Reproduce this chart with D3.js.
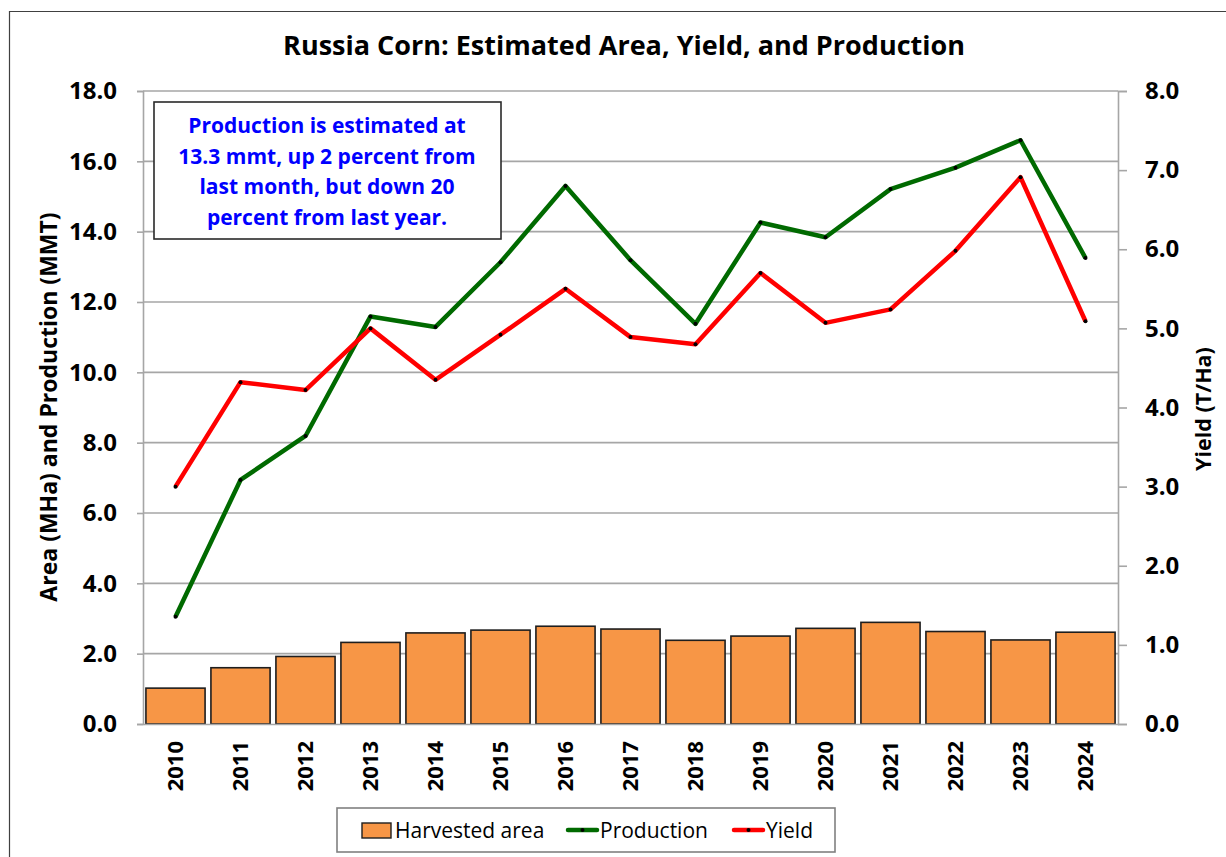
<!DOCTYPE html>
<html>
<head>
<meta charset="utf-8">
<script src="https://cdn.jsdelivr.net/npm/d3@7/dist/d3.min.js"></script>
<style>
  html, body { margin: 0; padding: 0; background: #fff; }
  svg { display: block; font-family: "Open Sans", "Noto Sans", sans-serif; }
</style>
</head>
<body>
<svg id="chart" width="1226" height="857"></svg>
<script>
const years = ["2010","2011","2012","2013","2014","2015","2016","2017","2018","2019","2020","2021","2022","2023","2024"];
const harvestedArea = [1.02, 1.60, 1.92, 2.32, 2.59, 2.67, 2.78, 2.70, 2.38, 2.50, 2.72, 2.89, 2.63, 2.39, 2.61];
const production = [3.05, 6.94, 8.19, 11.59, 11.29, 13.13, 15.30, 13.19, 11.38, 14.26, 13.84, 15.21, 15.82, 16.60, 13.25];
const yieldVals = [3.00, 4.32, 4.22, 5.00, 4.35, 4.92, 5.50, 4.89, 4.80, 5.70, 5.07, 5.24, 5.98, 6.91, 5.09];
const leftTicks = [0, 2, 4, 6, 8, 10, 12, 14, 16, 18];
const rightTicks = [0, 1, 2, 3, 4, 5, 6, 7, 8];
const titleText = "Russia Corn: Estimated Area, Yield, and Production";
const leftAxisTitle = "Area (MHa) and Production (MMT)";
const rightAxisTitle = "Yield (T/Ha)";
const noteLines = ["Production is estimated at", "13.3 mmt, up 2 percent from", "last month, but down 20", "percent from last year."];
const legendLabels = ["Harvested area", "Production", "Yield"];

const svg = d3.select("#chart");
const plot = { left: 143, right: 1118, top: 91, bottom: 724 };
const gridColor = "#a6a6a6";

// outer frame (left and top edges visible)
svg.append("path").attr("d", "M9.5,857 L9.5,11.5 L1226,11.5")
  .attr("fill", "none").attr("stroke", "#404040").attr("stroke-width", 1.2);

const x = d3.scaleBand().domain(years).range([plot.left, plot.right]).paddingInner(0.09).paddingOuter(0.045);
const yL = d3.scaleLinear().domain([0, 18]).range([plot.bottom, plot.top]);
const yR = d3.scaleLinear().domain([0, 8]).range([plot.bottom, plot.top]);

// gridlines
svg.append("g").selectAll("line").data(leftTicks.filter(d => d > 0)).join("line")
  .attr("x1", plot.left).attr("x2", plot.right)
  .attr("y1", d => yL(d)).attr("y2", d => yL(d))
  .attr("stroke", gridColor).attr("stroke-width", 1.6);

// bars
svg.append("g").selectAll("rect").data(years).join("rect")
  .attr("x", d => x(d)).attr("width", x.bandwidth())
  .attr("y", (d, i) => yL(harvestedArea[i]))
  .attr("height", (d, i) => plot.bottom - yL(harvestedArea[i]))
  .attr("fill", "#f79646").attr("stroke", "#1e1e1e").attr("stroke-width", 1.6);

// left axis
const gL = svg.append("g").attr("transform", `translate(${plot.left},0)`)
  .call(d3.axisLeft(yL).tickValues(leftTicks).tickFormat(d3.format(".1f")).tickSize(6).tickPadding(20));
gL.select(".domain").attr("stroke", gridColor).attr("stroke-width", 1.6);
gL.selectAll(".tick line").attr("stroke", gridColor).attr("stroke-width", 1.6);
gL.selectAll(".tick text").attr("font-size", 24).attr("font-weight", "bold").attr("fill", "#000")
  .attr("font-family", "'Open Sans', sans-serif");

// right axis
const gR = svg.append("g").attr("transform", `translate(${plot.right},0)`)
  .call(d3.axisRight(yR).tickValues(rightTicks).tickFormat(d3.format(".1f")).tickSize(9).tickPadding(18));
gR.select(".domain").attr("stroke", gridColor).attr("stroke-width", 1.6);
gR.selectAll(".tick line").attr("stroke", gridColor).attr("stroke-width", 1.6);
gR.selectAll(".tick text").attr("font-size", 24).attr("font-weight", "bold").attr("fill", "#000")
  .attr("font-family", "'Open Sans', sans-serif");

// bottom axis
const gB = svg.append("g").attr("transform", `translate(0,${plot.bottom})`)
  .call(d3.axisBottom(x).tickSize(0).tickPadding(0));
gB.select(".domain").attr("stroke", gridColor).attr("stroke-width", 1.6);
gB.selectAll(".tick text")
  .attr("font-size", 22).attr("font-weight", "bold").attr("fill", "#000")
  .attr("font-family", "'Open Sans', sans-serif")
  .attr("transform", "rotate(-90)")
  .attr("text-anchor", "end").attr("dy", "0.36em").attr("x", -17).attr("y", 0);

// lines
const lineL = d3.line().x((d, i) => x(years[i]) + x.bandwidth() / 2).y(d => yL(d));
const lineR = d3.line().x((d, i) => x(years[i]) + x.bandwidth() / 2).y(d => yR(d));
svg.append("path").datum(production).attr("d", lineL)
  .attr("fill", "none").attr("stroke", "#006a00").attr("stroke-width", 4.5).attr("stroke-linejoin", "round");
svg.append("path").datum(yieldVals).attr("d", lineR)
  .attr("fill", "none").attr("stroke", "#ff0000").attr("stroke-width", 4.5).attr("stroke-linejoin", "round");
svg.append("g").selectAll("circle").data(production).join("circle")
  .attr("cx", (d, i) => x(years[i]) + x.bandwidth() / 2).attr("cy", d => yL(d)).attr("r", 2).attr("fill", "#000");
svg.append("g").selectAll("circle").data(yieldVals).join("circle")
  .attr("cx", (d, i) => x(years[i]) + x.bandwidth() / 2).attr("cy", d => yR(d)).attr("r", 2).attr("fill", "#000");

// title
svg.append("text").attr("x", 624).attr("y", 55).attr("text-anchor", "middle")
  .attr("font-size", 27).attr("font-weight", "bold").attr("fill", "#000").text(titleText);

// axis titles
svg.append("text").attr("transform", "translate(57,407) rotate(-90)").attr("text-anchor", "middle")
  .attr("font-size", 23).attr("font-weight", "bold").attr("fill", "#000").text(leftAxisTitle);
svg.append("text").attr("transform", "translate(1211,409) rotate(-90)").attr("text-anchor", "middle")
  .attr("font-size", 21.5).attr("font-weight", "bold").attr("fill", "#000").text(rightAxisTitle);

// annotation box
svg.append("rect").attr("x", 154).attr("y", 102).attr("width", 347).attr("height", 137)
  .attr("fill", "#fff").attr("stroke", "#2a2a2a").attr("stroke-width", 1.6);
svg.append("g").selectAll("text").data(noteLines).join("text")
  .attr("x", 327).attr("y", (d, i) => 133 + i * 30.5).attr("text-anchor", "middle")
  .attr("font-size", 21).attr("font-weight", "bold").attr("fill", "#0000ff").text(d => d);

// legend
const lg = svg.append("g");
lg.append("rect").attr("x", 337).attr("y", 808).attr("width", 498).attr("height", 44)
  .attr("fill", "#fff").attr("stroke", "#808080").attr("stroke-width", 1.6);
lg.append("rect").attr("x", 362).attr("y", 823).attr("width", 29).attr("height", 15)
  .attr("fill", "#f79646").attr("stroke", "#1e1e1e").attr("stroke-width", 1.4);
lg.append("line").attr("x1", 568).attr("x2", 597).attr("y1", 830).attr("y2", 830)
  .attr("stroke", "#006a00").attr("stroke-width", 4.5).attr("stroke-linecap", "round");
lg.append("circle").attr("cx", 582.5).attr("cy", 830).attr("r", 2).attr("fill", "#000");
lg.append("line").attr("x1", 734).attr("x2", 763).attr("y1", 830).attr("y2", 830)
  .attr("stroke", "#ff0000").attr("stroke-width", 4.5).attr("stroke-linecap", "round");
lg.append("circle").attr("cx", 748.5).attr("cy", 830).attr("r", 2).attr("fill", "#000");
const legendX = [395, 600, 766];
lg.selectAll("text.lbl").data(legendLabels).join("text").attr("class", "lbl")
  .attr("x", (d, i) => legendX[i]).attr("y", 838)
  .attr("font-size", 21).attr("fill", "#000").text(d => d);
</script>
</body>
</html>
